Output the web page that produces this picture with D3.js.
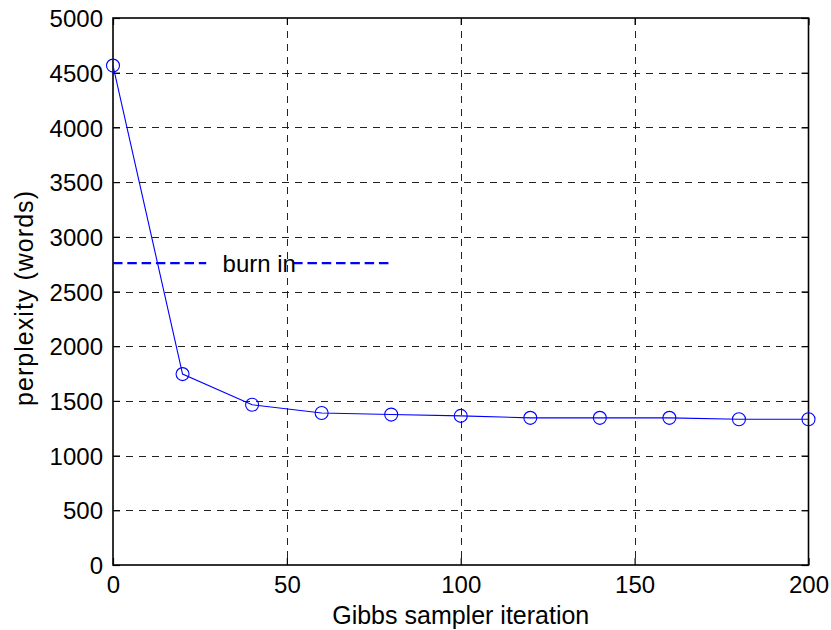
<!DOCTYPE html>
<html>
<head>
<meta charset="utf-8">
<script src="https://cdn.jsdelivr.net/npm/d3@7"></script>
<style>
  html, body { margin: 0; padding: 0; background: #fff; }
  text { font-family: "Liberation Sans", Arial, Helvetica, sans-serif; fill: #000; }
</style>
</head>
<body>
<svg id="chart" width="831" height="630"></svg>
<script>
// ---- data ----
const iterations = [0, 20, 40, 60, 80, 100, 120, 140, 160, 180, 200];
const perplexity = [4565, 1745, 1465, 1390, 1375, 1363, 1345, 1345, 1345, 1332, 1332];
const xTicks = [0, 50, 100, 150, 200];
const yTicks = [0, 500, 1000, 1500, 2000, 2500, 3000, 3500, 4000, 4500, 5000];
const burnInLevel = 2760;
const burnInSegments = [[0, 26.8], [51.8, 80]];
const burnInLabel = "burn in";
const burnInLabelX = 31.5;
const xLabel = "Gibbs sampler iteration";
const yLabel = "perplexity (words)";

// ---- layout ----
const svg = d3.select("#chart");
const L = 113, R = 808.5, T = 18, B = 565;
const x = d3.scaleLinear().domain([0, 200]).range([L, R]);
const y = d3.scaleLinear().domain([0, 5000]).range([B, T]);

// grid
const grid = svg.append("g").attr("stroke", "#222").attr("stroke-width", 1)
  .attr("stroke-dasharray", "7,6").attr("fill", "none");
grid.selectAll("line.v").data(xTicks.filter(d => d > 0 && d < 200)).enter().append("line")
  .attr("x1", d => Math.round(x(d)) + 0.5).attr("x2", d => Math.round(x(d)) + 0.5)
  .attr("y1", T).attr("y2", B);
grid.selectAll("line.h").data(yTicks.filter(d => d > 0 && d < 5000)).enter().append("line")
  .attr("y1", d => Math.round(y(d)) + 0.5).attr("y2", d => Math.round(y(d)) + 0.5)
  .attr("x1", L).attr("x2", R);

// axes with inward ticks
const tickLen = 7;
const xAxisB = d3.axisBottom(x).tickValues(xTicks).tickSize(-tickLen).tickPadding(11).tickFormat(d3.format("d"));
const xAxisT = d3.axisTop(x).tickValues(xTicks).tickSize(-tickLen).tickFormat("");
const yAxisL = d3.axisLeft(y).tickValues(yTicks).tickSize(-tickLen).tickPadding(10).tickFormat(d3.format("d"));
const yAxisR = d3.axisRight(y).tickValues(yTicks).tickSize(-tickLen).tickFormat("");

function styleAxis(g) {
  g.select(".domain").remove();
  g.selectAll(".tick line").attr("stroke", "#000").attr("stroke-width", 1.2);
  g.selectAll(".tick text").style("font-size", "24px").attr("fill", "#000")
    .style("font-family", '"Liberation Sans", Arial, sans-serif');
}
svg.append("g").attr("transform", `translate(0,${B})`).call(xAxisB).call(styleAxis);
svg.append("g").attr("transform", `translate(0,${T})`).call(xAxisT).call(styleAxis);
svg.append("g").attr("transform", `translate(${L},0)`).call(yAxisL).call(styleAxis)
  .selectAll(".tick text").attr("dy", "0.36em");
svg.append("g").attr("transform", `translate(${R},0)`).call(yAxisR).call(styleAxis);

// box
svg.append("rect").attr("x", L).attr("y", T).attr("width", R - L).attr("height", B - T)
  .attr("fill", "none").attr("stroke", "#000").attr("stroke-width", 1.6);

// burn-in line
svg.append("g").selectAll("line").data(burnInSegments).enter().append("line")
  .attr("x1", d => x(d[0])).attr("x2", d => x(d[1]))
  .attr("y1", y(burnInLevel)).attr("y2", y(burnInLevel))
  .attr("stroke", "#0000ff").attr("stroke-width", 2.2).attr("stroke-dasharray", "9.5,4.8");
svg.append("text").attr("x", x(burnInLabelX)).attr("y", y(burnInLevel) + 9)
  .style("font-size", "24px").text(burnInLabel);

// data line
const line = d3.line().x((d, i) => x(iterations[i])).y(d => y(d));
svg.append("path").datum(perplexity).attr("d", line)
  .attr("fill", "none").attr("stroke", "#0000ff").attr("stroke-width", 1.1);
svg.append("g").selectAll("circle").data(perplexity).enter().append("circle")
  .attr("cx", (d, i) => x(iterations[i])).attr("cy", d => y(d)).attr("r", 6.5)
  .attr("fill", "none").attr("stroke", "#0000ff").attr("stroke-width", 1.1);

// labels
svg.append("text").attr("x", (L + R) / 2).attr("y", 624).attr("text-anchor", "middle")
  .style("font-size", "25px").text(xLabel);
svg.append("text").attr("transform", `translate(33,298.5) rotate(-90)`).attr("text-anchor", "middle")
  .style("font-size", "25px").attr("textLength", 215).attr("lengthAdjust", "spacing").text(yLabel);
</script>
</body>
</html>
